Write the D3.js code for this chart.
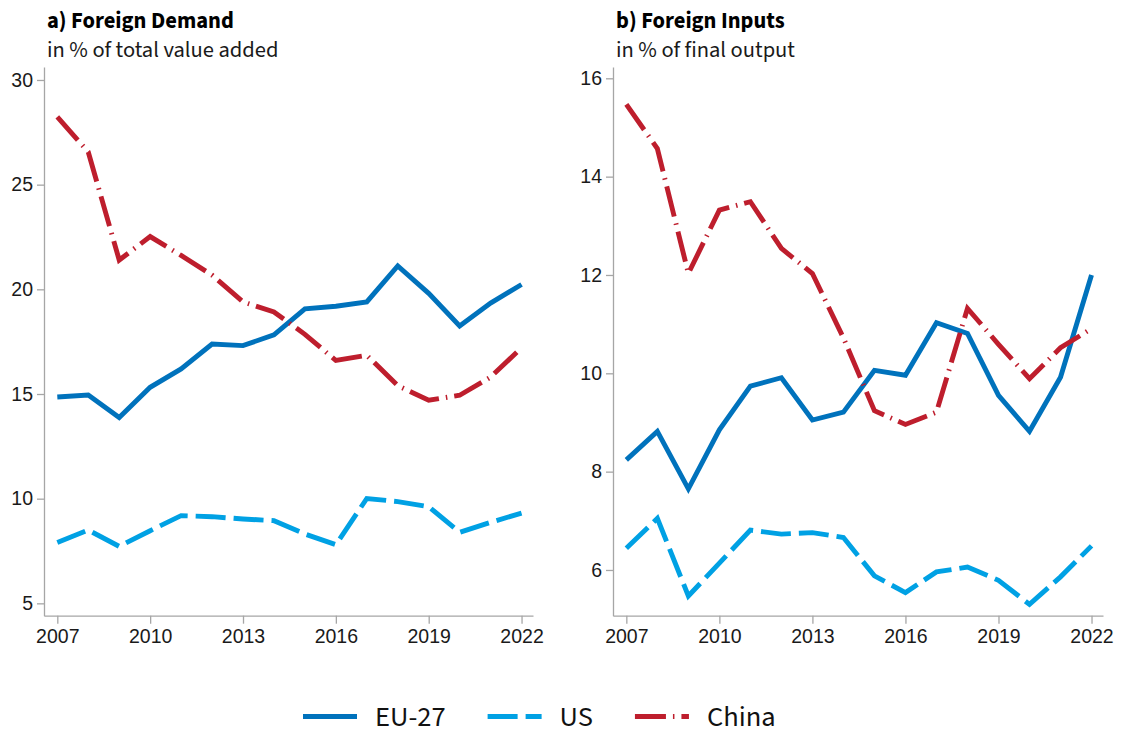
<!DOCTYPE html>
<html>
<head>
<meta charset="utf-8">
<script src="https://cdn.jsdelivr.net/npm/d3@7"></script>
<style>
  html, body { margin: 0; padding: 0; background: #fff; }
  svg { display: block; font-family: "Source Sans Pro", "Source Sans 3", Lato, sans-serif; }
  .axis path, .axis line { stroke: #a6a6a6; stroke-width: 1.3; }
  .axis text { fill: #1a1a1a; font-size: 19.5px; }
</style>
</head>
<body>
<svg id="chart" width="1121" height="731"></svg>
<script>
// Years on the x axis
const years = [2007, 2008, 2009, 2010, 2011, 2012, 2013, 2014, 2015, 2016, 2017, 2018, 2019, 2020, 2021, 2022];
const yearTicks = [2007, 2010, 2013, 2016, 2019, 2022];

// a) Foreign demand, in % of total value added
const demandEU = [14.86, 14.95, 13.88, 15.32, 16.2, 17.39, 17.31, 17.83, 19.07, 19.19, 19.4, 21.12, 19.81, 18.25, 19.34, 20.23];
const demandUS = [7.91, 8.5, 7.72, 8.47, 9.19, 9.14, 9.03, 8.95, 8.31, 7.8, 10.01, 9.86, 9.62, 8.39, 8.87, 9.31];
const demandCN = [28.24, 26.56, 21.4, 22.52, 21.62, 20.68, 19.4, 18.92, 17.85, 16.6, 16.85, 15.4, 14.7, 14.94, 15.81, 17.21];
const demandTicks = [5, 10, 15, 20, 25, 30];

// b) Foreign inputs, in % of final output
const inputsEU = [8.24, 8.82, 7.65, 8.85, 9.74, 9.91, 9.05, 9.21, 10.06, 9.96, 11.03, 10.81, 9.55, 8.82, 9.92, 12.0];
const inputsUS = [6.44, 7.05, 5.47, 6.14, 6.81, 6.73, 6.76, 6.66, 5.88, 5.54, 5.96, 6.06, 5.79, 5.3, 5.86, 6.49];
const inputsCN = [15.47, 14.57, 12.03, 13.32, 13.49, 12.54, 12.03, 10.72, 9.24, 8.96, 9.21, 11.32, 10.59, 9.89, 10.52, 10.91];
const inputsTicks = [6, 8, 10, 12, 14, 16];

// Series names and styling
const seriesNames = ["EU-27", "US", "China"];
const seriesColors = ["#0072bc", "#00a1e4", "#be1e2d"];
const seriesDashes = [null, "30,8", "31,7,1.5,7"];

const svg = d3.select("#chart");

const panels = [
  {
    title: "a) Foreign Demand",
    subtitle: "in % of total value added",
    series: [demandEU, demandUS, demandCN],
    ticks: demandTicks,
    yDomain: [4.41, 30.62],
    left: 44, right: 533
  },
  {
    title: "b) Foreign Inputs",
    subtitle: "in % of final output",
    series: [inputsEU, inputsUS, inputsCN],
    ticks: inputsTicks,
    yDomain: [5.07, 16.23],
    left: 613, right: 1103
  }
];

const plotTop = 67, plotBottom = 615.7;

panels.forEach(p => {
  const g = svg.append("g");

  const x = d3.scaleLinear().domain([2006.57, 2022.37]).range([p.left, p.right]);
  const y = d3.scaleLinear().domain(p.yDomain).range([plotBottom, plotTop]);

  // Titles
  g.append("text")
    .attr("x", p.left + 3).attr("y", 27.5)
    .attr("font-size", 22.5).attr("font-weight", 700).attr("fill", "#000")
    .text(p.title);
  g.append("text")
    .attr("x", p.left + 3).attr("y", 57)
    .attr("font-size", 22.5).attr("fill", "#1a1a1a")
    .text(p.subtitle);

  // Axes
  g.append("g")
    .attr("class", "axis")
    .attr("transform", `translate(0,${plotBottom})`)
    .call(d3.axisBottom(x).tickValues(yearTicks).tickFormat(d3.format("d"))
      .tickSize(8).tickSizeOuter(0).tickPadding(5));

  g.append("g")
    .attr("class", "axis")
    .attr("transform", `translate(${p.left},0)`)
    .call(d3.axisLeft(y).tickValues(p.ticks).tickFormat(d3.format("d"))
      .tickSize(7).tickSizeOuter(0).tickPadding(4));

  // Lines
  const line = d3.line()
    .x((d, i) => x(years[i]))
    .y(d => y(d));

  p.series.forEach((values, k) => {
    g.append("path")
      .datum(values)
      .attr("d", line)
      .attr("fill", "none")
      .attr("stroke", seriesColors[k])
      .attr("stroke-width", 4.9)
      .attr("stroke-dasharray", seriesDashes[k])
      .attr("stroke-linecap", "butt");
  });
});

// Legend
const legend = svg.append("g");
let lx = 303;
const ly = 716.5;
seriesNames.forEach((name, k) => {
  legend.append("line")
    .attr("x1", lx).attr("x2", lx + 54)
    .attr("y1", ly).attr("y2", ly)
    .attr("stroke", seriesColors[k])
    .attr("stroke-width", 4.9)
    .attr("stroke-dasharray", seriesDashes[k]);
  const t = legend.append("text")
    .attr("x", lx + 72).attr("y", ly + 9.5)
    .attr("font-size", 28.5).attr("fill", "#111")
    .text(name);
  lx += 72 + t.node().getComputedTextLength() + 42;
});
</script>
</body>
</html>
